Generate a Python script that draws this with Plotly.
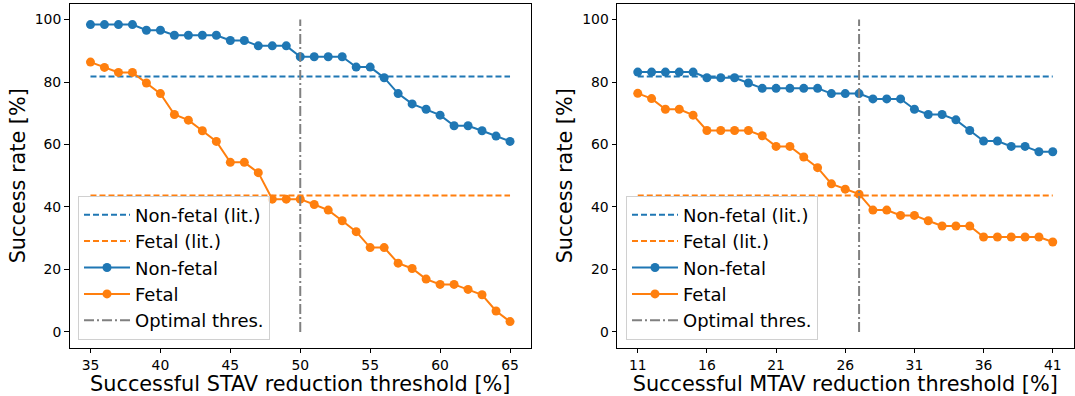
import plotly.graph_objects as go

# ---------------- data ----------------
stav_thr = [35, 36, 37, 38, 39, 40, 41, 42, 43, 44, 45, 46, 47, 48, 49, 50,
            51, 52, 53, 54, 55, 56, 57, 58, 59, 60, 61, 62, 63, 64, 65]
stav_nonfetal = [98.4, 98.4, 98.4, 98.4, 96.6, 96.6, 95.0, 95.0, 95.0, 95.0, 93.3,
                 93.3, 91.6, 91.6, 91.6, 88.1, 88.1, 88.1, 88.1, 84.8, 84.8, 81.4,
                 76.3, 73.0, 71.3, 69.4, 66.0, 66.0, 64.4, 62.7, 61.0]
stav_fetal = [86.4, 84.7, 83.1, 83.1, 79.7, 76.3, 69.6, 67.8, 64.4, 61.0, 54.3,
              54.3, 51.0, 42.5, 42.5, 42.5, 40.8, 39.0, 35.6, 32.1, 27.0, 27.0,
              22.0, 20.3, 16.9, 15.2, 15.2, 13.6, 11.9, 6.7, 3.3]
stav_ticks = [35, 40, 45, 50, 55, 60, 65]
stav_opt = 50

mtav_thr = [11, 12, 13, 14, 15, 16, 17, 18, 19, 20, 21, 22, 23, 24, 25, 26,
            27, 28, 29, 30, 31, 32, 33, 34, 35, 36, 37, 38, 39, 40, 41]
mtav_nonfetal = [83.2, 83.2, 83.2, 83.2, 83.2, 81.4, 81.4, 81.4, 79.7, 78.0, 78.0,
                 78.0, 78.0, 78.0, 76.3, 76.3, 76.3, 74.6, 74.6, 74.6, 71.3, 69.6,
                 69.6, 67.9, 64.5, 61.1, 61.1, 59.4, 59.4, 57.7, 57.7]
mtav_fetal = [76.4, 74.7, 71.3, 71.3, 69.4, 64.5, 64.5, 64.5, 64.5, 62.8, 59.4,
              59.4, 56.0, 52.6, 47.4, 45.7, 44.1, 39.0, 39.0, 37.3, 37.3, 35.6,
              33.9, 33.9, 33.9, 30.4, 30.4, 30.4, 30.4, 30.4, 28.8]
mtav_ticks = [11, 16, 21, 26, 31, 36, 41]
mtav_opt = 27

lit_nonfetal = 81.8
lit_fetal = 43.7
opt_span = [0, 100]
y_ticks = [0, 20, 40, 60, 80, 100]

BLUE = "#1f77b4"
ORANGE = "#ff7f0e"
GRAY = "#808080"
FONT = "DejaVu Sans"
W, H = 1075, 396

fig = go.Figure()


def add_panel(thr, nonfetal, fetal, opt, xa, ya, leg):
    x_span = [thr[0], thr[-1]]
    fig.add_trace(go.Scatter(x=x_span, y=[lit_nonfetal] * 2, mode="lines",
                             line=dict(color=BLUE, width=2, dash="6px,3px"),
                             name="Non-fetal (lit.)", xaxis=xa, yaxis=ya,
                             legend=leg, legendgroup=leg + "a"))
    fig.add_trace(go.Scatter(x=x_span, y=[lit_fetal] * 2, mode="lines",
                             line=dict(color=ORANGE, width=2, dash="6px,3px"),
                             name="Fetal (lit.)", xaxis=xa, yaxis=ya,
                             legend=leg, legendgroup=leg + "b"))
    fig.add_trace(go.Scatter(x=thr, y=nonfetal, mode="lines+markers",
                             line=dict(color=BLUE, width=2),
                             marker=dict(color=BLUE, size=9),
                             name="Non-fetal", xaxis=xa, yaxis=ya,
                             legend=leg, legendgroup=leg + "c"))
    fig.add_trace(go.Scatter(x=thr, y=fetal, mode="lines+markers",
                             line=dict(color=ORANGE, width=2),
                             marker=dict(color=ORANGE, size=9),
                             name="Fetal", xaxis=xa, yaxis=ya,
                             legend=leg, legendgroup=leg + "d"))
    fig.add_trace(go.Scatter(x=[opt, opt], y=opt_span, mode="lines",
                             line=dict(color=GRAY, width=2, dash="10px,3px,2px,3px"),
                             name="Optimal thres.", xaxis=xa, yaxis=ya,
                             legend=leg, legendgroup=leg + "e"))


add_panel(stav_thr, stav_nonfetal, stav_fetal, stav_opt, "x", "y", "legend")
add_panel(mtav_thr, mtav_nonfetal, mtav_fetal, mtav_opt, "x2", "y2", "legend2")


def xrange(thr):
    span = thr[-1] - thr[0]
    return [thr[0] - 0.05 * span, thr[-1] + 0.05 * span]


axis_common = dict(showline=True, linecolor="black", linewidth=1, mirror=True,
                   ticks="outside", ticklen=4.5, tickwidth=1, tickcolor="black",
                   showgrid=False, zeroline=False,
                   tickfont=dict(family=FONT, size=13.9, color="black"),
                   automargin=False)

ydom = [(H - 347.5) / H, (H - 4) / H]
TITLE_FONT = dict(family=FONT, size=20.8, color="black")

leg_common = dict(font=dict(family=FONT, size=18, color="black"),
                  bgcolor="rgba(255,255,255,0.8)", bordercolor="#d0d0d0",
                  borderwidth=1, tracegroupgap=0, xanchor="left", yanchor="bottom",
                  itemwidth=46)

fig.update_layout(
    width=W, height=H,
    margin=dict(l=0, r=0, t=0, b=0),
    paper_bgcolor="white", plot_bgcolor="white",
    font=dict(family=FONT, color="black"),
    showlegend=True,
    xaxis=dict(domain=[69.5 / W, 531 / W], range=xrange(stav_thr),
               tickvals=stav_ticks, anchor="y",
               title=dict(text="Successful STAV reduction threshold [%]",
                          font=TITLE_FONT, standoff=2),
               **axis_common),
    yaxis=dict(domain=ydom, range=[-5, 105], tickvals=y_ticks, anchor="x",
               title=dict(text="Success rate [%]", font=TITLE_FONT, standoff=3),
               **axis_common),
    xaxis2=dict(domain=[617 / W, 1073.5 / W], range=xrange(mtav_thr),
                tickvals=mtav_ticks, anchor="y2",
                title=dict(text="Successful MTAV reduction threshold [%]",
                           font=TITLE_FONT, standoff=2),
                **axis_common),
    yaxis2=dict(domain=ydom, range=[-5, 105], tickvals=y_ticks, anchor="x2",
                title=dict(text="Success rate [%]", font=TITLE_FONT, standoff=3),
                **axis_common),
    legend=dict(x=78 / W, y=(H - 339.5) / H, **leg_common),
    legend2=dict(x=626 / W, y=(H - 339.5) / H, **leg_common),
)

fig.write_html("out.html")
